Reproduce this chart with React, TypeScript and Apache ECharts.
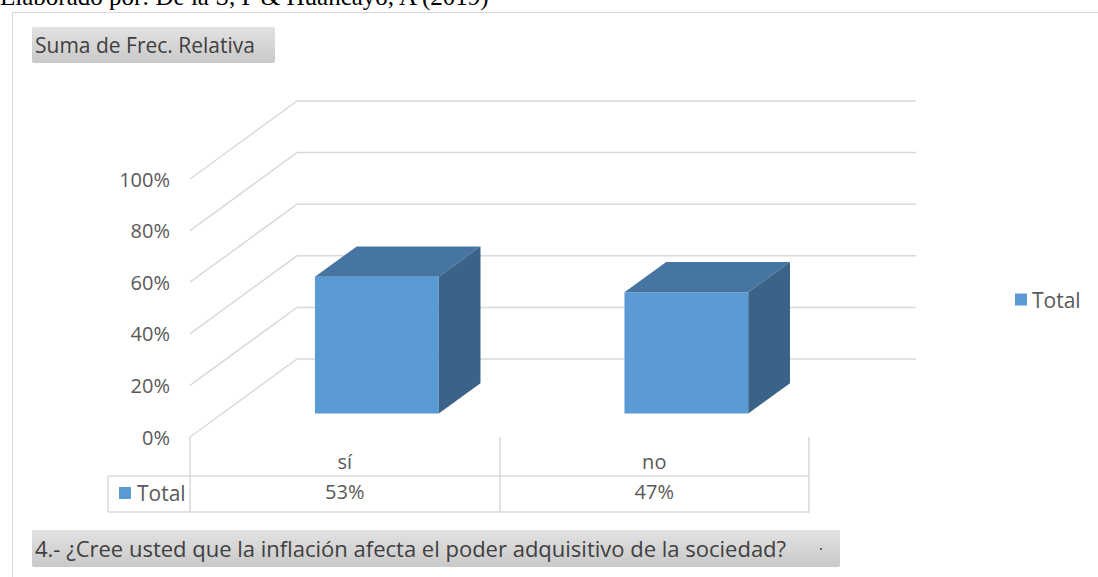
import React, { useEffect, useRef } from "react";
import * as echarts from "echarts";

const categories = ["sí", "no"];
const values = [53, 47];
const seriesName = "Total";
const yTicks = [0, 20, 40, 60, 80, 100];
const chartTitle = "Suma de Frec. Relativa";
const question = "4.- ¿Cree usted que la inflación afecta el poder adquisitivo de la sociedad?";
const source = "Elaborado por: De la S, P & Huancayo, A (2019)";

const FONT = "'Open Sans', sans-serif";
const DEPTH = [107, -78];
const BAR_FRONT = 0.3;
const BAR_BACK = 0.69;
const GRID_COLOR = "#d9d9d9";
const TEXT_COLOR = "#595959";

const btnGradient = () =>
  new echarts.graphic.LinearGradient(0, 0, 0, 1, [
    { offset: 0, color: "#e2e2e2" },
    { offset: 1, color: "#c9c9c9" },
  ]);

export default function App() {
  const ref = useRef<HTMLDivElement>(null);
  useEffect(() => {
    const chart = echarts.init(ref.current!, null, { renderer: "svg" });
    const option: any = {
      animation: false,
      grid: { left: 190, right: 289, top: 179, bottom: 140, containLabel: false },
      legend: {
        data: [seriesName],
        left: 1010,
        top: 284,
        icon: "rect",
        itemWidth: 12,
        itemHeight: 12,
        textStyle: { fontSize: 21, color: TEXT_COLOR, fontFamily: FONT },
      },
      xAxis: [
        {
          type: "category",
          data: categories,
          axisLine: { show: false },
          axisTick: { show: true, length: 75, alignWithLabel: false, interval: 0, lineStyle: { color: GRID_COLOR, width: 1.5 } },
          axisLabel: { color: TEXT_COLOR, fontSize: 20, fontFamily: FONT, margin: 14 },
          splitLine: { show: false },
        },
        {
          type: "category",
          data: categories,
          position: "bottom",
          offset: 30,
          axisLine: { show: false },
          axisTick: { show: false },
          axisLabel: {
            color: TEXT_COLOR,
            fontSize: 20,
            fontFamily: FONT,
            margin: 14,
            formatter: (_v: string, i: number) => values[i] + "%",
          },
          splitLine: { show: false },
        },
      ],
      yAxis: {
        type: "value",
        min: 0,
        max: 100,
        interval: 20,
        axisLine: { show: false },
        axisTick: { show: false },
        splitLine: { show: false },
        axisLabel: { formatter: "{value}%", color: TEXT_COLOR, fontSize: 20, fontFamily: FONT, margin: 20 },
      },
      series: [
        {
          type: "custom",
          name: "grid3d",
          silent: true,
          clip: false,
          z: 1,
          data: yTicks.map((v) => [0, v]),
          renderItem: (params: any, api: any) => {
            const cs = params.coordSys;
            const y = api.coord([0, api.value(1)])[1];
            const x0 = cs.x;
            const bx = x0 + DEPTH[0];
            const by = y + DEPTH[1];
            return {
              type: "polyline",
              shape: { points: [[x0, y], [bx, by], [bx + cs.width, by]] },
              style: { stroke: GRID_COLOR, lineWidth: 1.5, fill: null },
            };
          },
        },
        {
          type: "custom",
          name: seriesName,
          clip: false,
          z: 2,
          itemStyle: { color: "#5b9bd5" },
          data: values.map((v, i) => [i, v]),
          renderItem: (params: any, api: any) => {
            const i = api.value(0);
            const v = api.value(1);
            const base = api.coord([i, 0]);
            const top = api.coord([i, v]);
            const band = api.size([1, 0])[0];
            const w = band * 0.4;
            const fx = DEPTH[0] * BAR_FRONT;
            const fy = DEPTH[1] * BAR_FRONT;
            const dx = DEPTH[0] * (BAR_BACK - BAR_FRONT);
            const dy = DEPTH[1] * (BAR_BACK - BAR_FRONT);
            const L = base[0] - w / 2 + fx;
            const R = L + w;
            const B = base[1] + fy;
            const T = top[1] + fy;
            return {
              type: "group",
              children: [
                { type: "polygon", shape: { points: [[L, B], [R, B], [R, T], [L, T]] }, style: { fill: "#5b9bd5" } },
                { type: "polygon", shape: { points: [[L, T], [R, T], [R + dx, T + dy], [L + dx, T + dy]] }, style: { fill: "#4675a1" } },
                { type: "polygon", shape: { points: [[R, B], [R + dx, B + dy], [R + dx, T + dy], [R, T]] }, style: { fill: "#3a6387" } },
              ],
            };
          },
        },
      ],
      graphic: [
        { type: "rect", shape: { x: 12.5, y: 12.5, width: 1200, height: 700 }, style: { fill: "none", stroke: GRID_COLOR, lineWidth: 1 }, silent: true },
        { type: "text", x: 0, y: -4, style: { text: source, fontFamily: "'Liberation Serif', serif", fontSize: 25, fill: "#000", verticalAlign: "middle" } },
        { type: "rect", shape: { x: 32, y: 27, width: 243, height: 36, r: 2 }, style: { fill: btnGradient() } },
        { type: "text", x: 35, y: 45, style: { text: chartTitle, fontFamily: FONT, fontSize: 21, fill: "#404040", verticalAlign: "middle" } },
        { type: "line", shape: { x1: 108, y1: 476, x2: 810, y2: 476 }, style: { stroke: GRID_COLOR, lineWidth: 1.5 } },
        { type: "line", shape: { x1: 108, y1: 512, x2: 810, y2: 512 }, style: { stroke: GRID_COLOR, lineWidth: 1.5 } },
        { type: "line", shape: { x1: 108, y1: 476, x2: 108, y2: 512 }, style: { stroke: GRID_COLOR, lineWidth: 1.5 } },
        { type: "rect", shape: { x: 119, y: 487, width: 12, height: 12 }, style: { fill: "#5b9bd5" } },
        { type: "text", x: 137, y: 493, style: { text: seriesName, fontFamily: FONT, fontSize: 21, fill: TEXT_COLOR, verticalAlign: "middle" } },
        { type: "rect", shape: { x: 32, y: 530, width: 808, height: 37, r: 2 }, style: { fill: btnGradient() } },
        { type: "text", x: 35, y: 548, style: { text: question, fontFamily: FONT, fontSize: 22, fill: "#404040", verticalAlign: "middle" } },
        { type: "rect", shape: { x: 820, y: 548, width: 2, height: 2 }, style: { fill: "#666" } },
      ],
    };
    chart.setOption(option);
    return () => chart.dispose();
  }, []);
  return <div ref={ref} style={{ position: "absolute", left: 0, top: 0, width: 1098, height: 577 }} />;
}
